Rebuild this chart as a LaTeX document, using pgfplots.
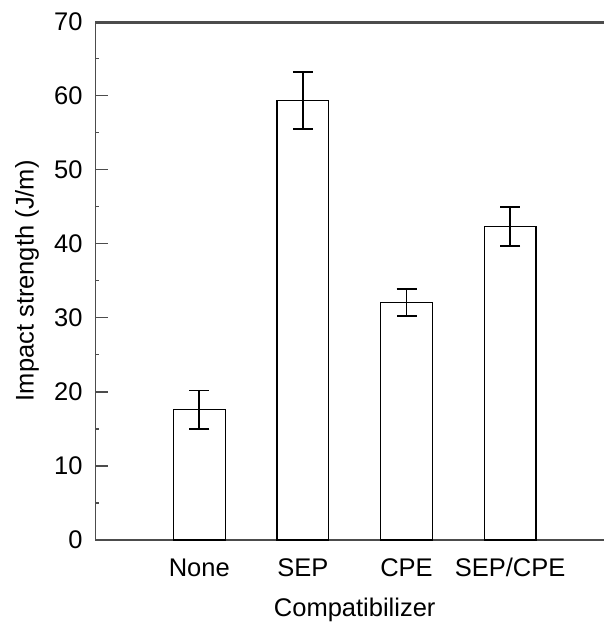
\documentclass[border=0pt]{standalone}
\usepackage{fontspec}
\setmainfont{Liberation Sans}
\usepackage{pgfplots}
\pgfplotsset{compat=1.18}
\usepackage{pgfplotstable}

% Notched Izod impact strength by compatibilizer (mean and standard deviation)
\pgfplotstableread{
x  y     err
0  17.6  2.6
1  59.4  3.85
2  32.1  1.8
3  42.35 2.6
}\impact

\newcommand{\lblfont}{\fontsize{25.5}{30}\selectfont}
\colorlet{framecol}{gray!60!black}

\begin{document}
\begin{tikzpicture}
\begin{axis}[
  name=ax,
  scale only axis,
  width=518pt, height=518.3pt,
  xmin=-1, xmax=4,
  ymin=0, ymax=70,
  ytick={0,10,...,70},
  minor y tick num=1,
  xtick={0,1,2,3},
  xticklabels={None, SEP, CPE, SEP/CPE},
  xtick style={draw=none},
  tick align=inside,
  ytick pos=left,
  major tick length=12pt,
  minor tick length=3pt,
  every tick/.style={framecol, line width=1.2pt},
  axis line style={framecol, line width=1.5pt},
  /pgf/number format/assume math mode=true,
  tick label style={font=\lblfont},
  yticklabel style={anchor=east, inner sep=0pt, xshift=-13pt},
  xticklabel style={anchor=base, inner sep=0pt, yshift=-36pt},
  label style={font=\lblfont},
  xlabel={Compatibilizer},
  ylabel={Impact strength (J/m)},
  xlabel style={at={(axis description cs:0.5,-0.148)}, anchor=base, inner sep=0pt},
  ylabel style={at={(axis description cs:-0.1326,0.5)}, anchor=center, inner sep=0pt},
  clip=false,
]
\addplot[
  ybar, bar width=51.7pt,
  draw=black, fill=white, line width=1.2pt,
  error bars/.cd,
    y dir=both, y explicit,
    error bar style={black, line width=1.8pt},
    error mark options={black, line width=1.8pt, mark size=10pt, rotate=90},
] table[x=x, y=y, y error=err] {\impact};
\end{axis}
% upper frame edge, drawn across the full plotting width
\draw[framecol, line width=2pt] ([yshift=-1pt]ax.north west) -- ([yshift=-1pt,xshift=510pt]ax.north west);
\pgfresetboundingbox
\path[use as bounding box]
  ([xshift=-95.7pt,yshift=-84pt]ax.south west)
  rectangle ([xshift=507.3pt,yshift=21.7pt]ax.north west);
\end{tikzpicture}
\end{document}
